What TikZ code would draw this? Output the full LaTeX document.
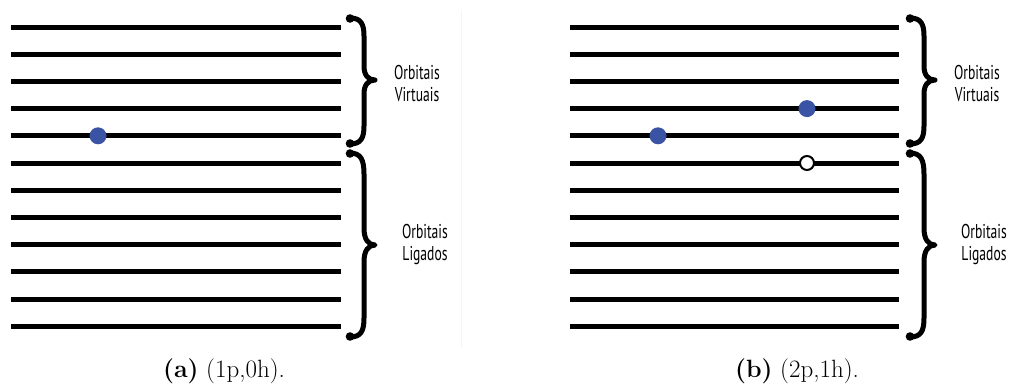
\documentclass[tikz,border=0pt]{standalone}
\usepackage{fontspec}
\newfontfamily\labfont[FakeStretch=0.68]{PT Sans}
\definecolor{dotblue}{RGB}{58,83,164}
\begin{document}
\begin{tikzpicture}[x=1pt,y=-1pt,
  level/.style={line width=5pt},
  bracepath/.style={line width=5pt,line cap=round,line join=round},
  elec/.style={circle,fill=dotblue,inner sep=0pt,minimum size=17pt},
  hole/.style={circle,draw=black,line width=2pt,fill=white,inner sep=0pt,minimum size=14pt},
  lab/.style={font=\labfont\fontsize{20}{22}\selectfont,align=center},
  captext/.style={font=\fontsize{25}{30}\selectfont}]
\useasboundingbox (0,0) rectangle (1012,391);
\draw[black!4,line width=1pt] (461,10) -- (461,348);
% levels
\foreach \i in {0,...,11}{
  \draw[level] (11,{27+\i*27.2}) -- (341,{27+\i*27.2});
  \draw[level] (570,{27+\i*27.2}) -- (899,{27+\i*27.2});
}
% braces
\foreach \bx in {348,908}{
  \begin{scope}[xshift=\bx pt-348pt]
  \draw[bracepath] (350,18) .. controls (361,18) and (364,24) .. (364,36) -- (364,66)
     .. controls (364,75) and (368,80) .. (375,80) .. controls (368,80) and (364,85) .. (364,94)
     -- (364,126) .. controls (364,138) and (361,144) .. (350,144);
  \draw[bracepath] (350,153) .. controls (361,153) and (364,160) .. (364,174) -- (364,228)
     .. controls (364,239) and (368,245) .. (375,245) .. controls (368,245) and (364,251) .. (364,262)
     -- (364,318) .. controls (364,331) and (361,337) .. (350,337);
  \fill (350,18.5) circle (4.3pt) (350,143.5) circle (4.3pt) (350,153.5) circle (4.3pt) (350,336.5) circle (4.3pt);
  \end{scope}
}
% labels
\node[lab] (va) at (417,83) {Orbitais\\Virtuais};
\node[lab] (la) at (425,244) {Orbitais\\Ligados};
\node[lab] (vb) at (977,83) {Orbitais\\Virtuais};
\node[lab] (lb) at (984,244) {Orbitais\\Ligados};
% particles
\node[elec] (pa) at (98,135.8) {};
\node[elec] (pb1) at (807,108.6) {};
\node[elec] (pb2) at (658,135.8) {};
\node[hole] (hb) at (807,163) {};
% captions
\node[captext] (capa) at (224,371) {\textbf{(a)} (1p,0h).};
\node[captext] (capb) at (797,371) {\textbf{(b)} (2p,1h).};
\end{tikzpicture}
\end{document}
